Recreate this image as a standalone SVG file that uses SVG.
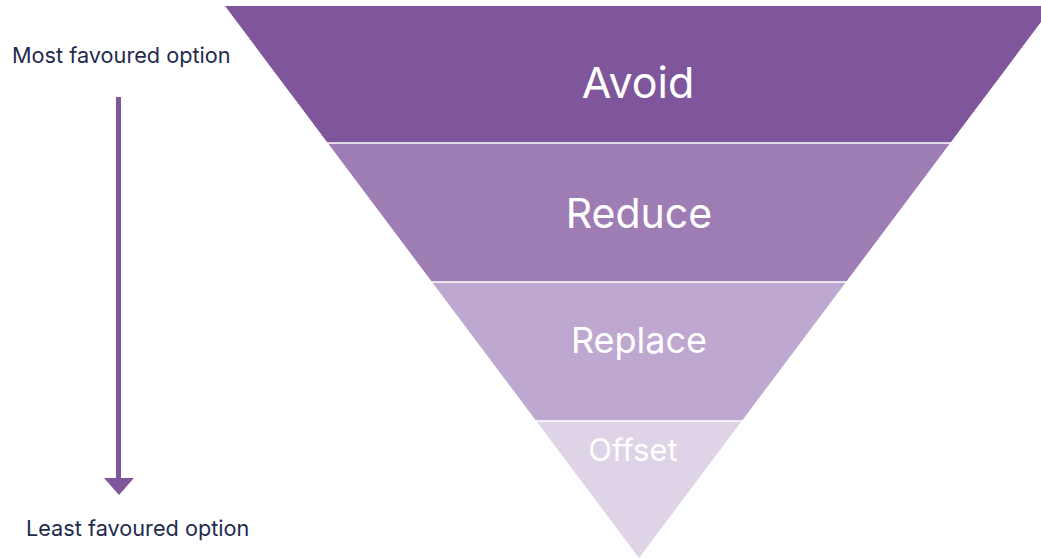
<svg xmlns="http://www.w3.org/2000/svg" width="1041" height="559" viewBox="0 0 1041 559">
  <style>
    .side { font-family: Inter, Roboto, "Liberation Sans", sans-serif; font-size: 21.7px; fill: #1f2b4d; }
    .tier { font-family: Inter, Roboto, "Liberation Sans", sans-serif; fill: #ffffff; text-anchor: middle; }
    .sep { stroke: #ffffff; stroke-width: 1.5; }
  </style>
  <rect width="1041" height="559" fill="#ffffff"/>

  <!-- funnel tiers: inverted triangle, apex (639,558), top edge y=6 from x=225 to x=1053 -->
  <g id="tier-avoid">
    <polygon points="225,6 1053,6 950.25,143 327.75,143" fill="#7f559b"/>
    <text class="tier" x="638" y="98" font-size="43">Avoid</text>
  </g>
  <g id="tier-reduce">
    <polygon points="327.75,143 950.25,143 846,282 432,282" fill="#9e7db5"/>
    <text class="tier" x="639" y="228" font-size="41">Reduce</text>
  </g>
  <g id="tier-replace">
    <polygon points="432,282 846,282 741.75,421 536.25,421" fill="#bea8cf"/>
    <text class="tier" x="639" y="353" font-size="36">Replace</text>
  </g>
  <g id="tier-offset">
    <polygon points="536.25,421 741.75,421 639,558" fill="#ded3e7"/>
    <text class="tier" x="633" y="461" font-size="31">Offset</text>
  </g>
  <g id="separators">
    <line class="sep" x1="320" y1="143" x2="960" y2="143"/>
    <line class="sep" x1="425" y1="282" x2="855" y2="282"/>
    <line class="sep" x1="530" y1="421" x2="750" y2="421"/>
  </g>

  <g id="label-most">
    <text class="side" x="12" y="63">Most favoured option</text>
  </g>
  <g id="label-least">
    <text class="side" x="26" y="536">Least favoured option</text>
  </g>

  <!-- downward arrow from most to least favoured -->
  <g id="connectors">
    <line x1="118.5" y1="97" x2="118.5" y2="479" stroke="#7f559b" stroke-width="5"/>
    <polygon points="104,478 134,478 119,495" fill="#7f559b"/>
  </g>
</svg>
